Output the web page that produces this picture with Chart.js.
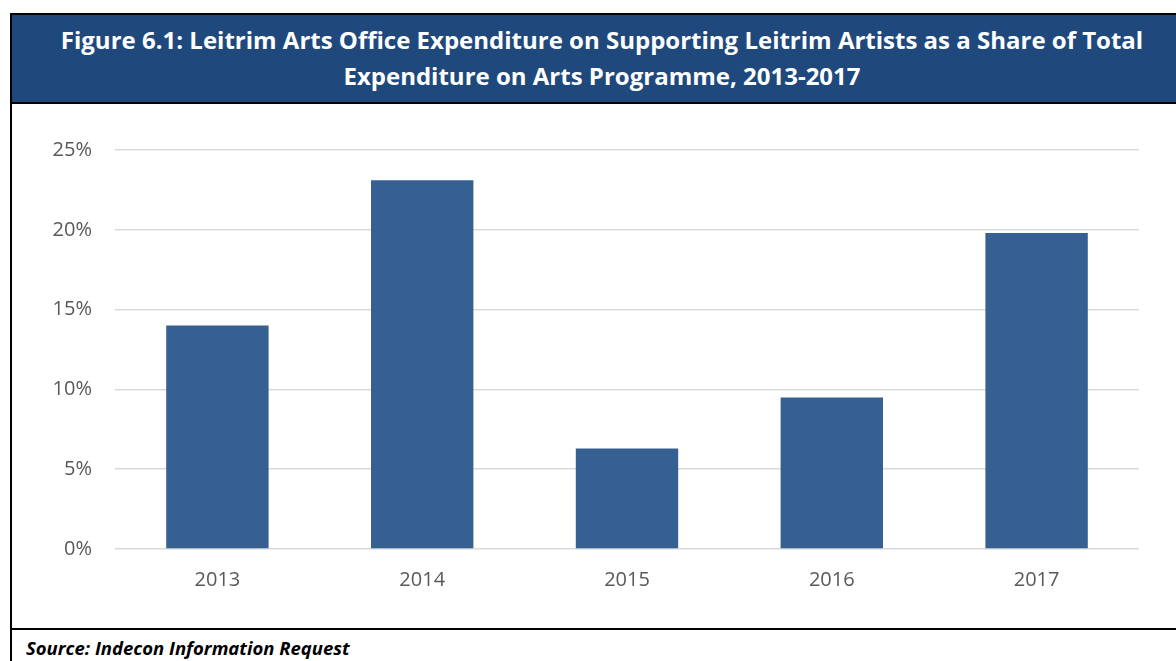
<!DOCTYPE html>
<html>
<head>
<meta charset="utf-8">
<script src="https://cdn.jsdelivr.net/npm/chart.js@4/dist/chart.umd.min.js"></script>
<style>
  html, body { margin: 0; padding: 0; background: #fff; width: 1176px; height: 661px; overflow: hidden; }
  body { position: relative; font-family: "Open Sans", sans-serif; }
  #header {
    position: absolute; left: 10px; top: 13px; width: 1184px; height: 91px;
    box-sizing: border-box; border: 2px solid #000; background: #1F497D;
    color: #fff; font-weight: 700; font-size: 24px; line-height: 36px;
    text-align: center; padding-top: 7px; white-space: nowrap;
  }
  #plotbox {
    position: absolute; left: 10px; top: 102px; width: 1184px; height: 528px;
    box-sizing: border-box; border: 2px solid #000; background: #fff;
  }
  #chartWrap { position: absolute; left: 0; top: 0; width: 1164px; height: 524px; }
  #srcbox {
    position: absolute; left: 10px; top: 628px; width: 1184px; height: 40px;
    box-sizing: border-box; border-left: 2px solid #000;
  }
  #source {
    position: absolute; left: 14px; top: 7px; font-size: 18.5px; font-weight: 700;
    font-style: italic; color: #000; white-space: nowrap;
  }
</style>
</head>
<body>
<div id="header">Figure 6.1: Leitrim Arts Office Expenditure on Supporting Leitrim Artists as a Share of Total<br>Expenditure on Arts Programme, 2013-2017</div>
<div id="plotbox"><div id="chartWrap"><canvas id="shareChart"></canvas></div></div>
<div id="srcbox"><div id="source">Source: Indecon Information Request</div></div>
<script>
// share of arts programme spend going to Leitrim artists (%)
const years = ['2013', '2014', '2015', '2016', '2017'];
const sharePct = [14.0, 23.1, 6.3, 9.5, 19.8];
const yTicks = [0, 5, 10, 15, 20, 25];

const tickFont = { family: '"Open Sans", sans-serif', size: 20 };

const ctx = document.getElementById('shareChart').getContext('2d');
new Chart(ctx, {
  type: 'bar',
  data: {
    labels: years,
    datasets: [{
      data: sharePct,
      backgroundColor: '#376092',
      borderWidth: 0,
      barPercentage: 0.5,
      categoryPercentage: 1.0
    }]
  },
  options: {
    responsive: true, maintainAspectRatio: false, animation: false,
    layout: { padding: { top: 46, right: 37, left: 0, bottom: 0 } },
    plugins: { legend: { display: false }, tooltip: { enabled: false } },
    scales: {
      x: {
        grid: { display: false, drawTicks: false },
        border: { display: false },
        ticks: { color: '#595959', font: tickFont, padding: 19 },
        afterFit: s => { s.height = 79; }
      },
      y: {
        min: yTicks[0], max: yTicks[yTicks.length - 1],
        afterBuildTicks: s => { s.ticks = yTicks.map(v => ({ value: v })); },
        grid: { color: '#D9D9D9', lineWidth: 1.5, drawTicks: false },
        border: { display: false },
        ticks: { color: '#595959', font: tickFont, padding: 23, callback: v => v + '%' },
        afterFit: s => { s.width = 103; }
      }
    }
  }
});
</script>
</body>
</html>
